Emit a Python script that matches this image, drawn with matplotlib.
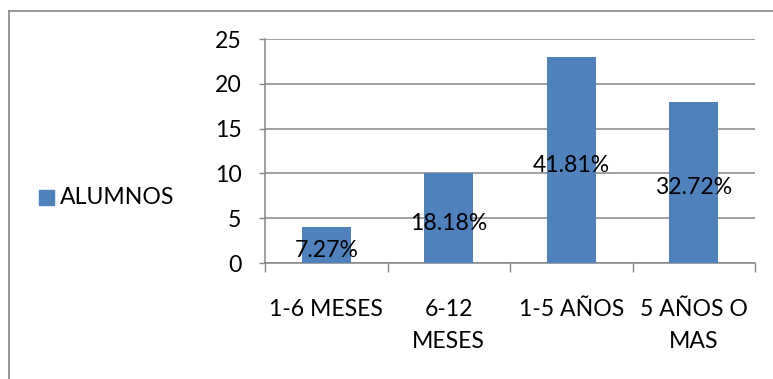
import matplotlib
matplotlib.use("Agg")
import matplotlib.pyplot as plt
from matplotlib.lines import Line2D
from matplotlib.patches import Rectangle

categories = ["1-6 MESES", "6-12\nMESES", "1-5 AÑOS", "5 AÑOS O\nMAS"]
alumnos = [4, 10, 23, 18]
porcentajes = ["7.27%", "18.18%", "41.81%", "32.72%"]
y_ticks = [0, 5, 10, 15, 20, 25]
series_name = "ALUMNOS"

BAR = "#4F81BD"
GRID = "#868686"
FONT = "Lato"
FS = 16.6

W, H = 773, 379
fig = plt.figure(figsize=(W / 100, H / 100), dpi=100)
fig.patch.set_facecolor("white")

# chart area border (left and top edges)
fig.add_artist(Line2D([9 / W, 9 / W], [0, 1 - 11 / H], color=GRID, lw=1.2,
                      transform=fig.transFigure))
fig.add_artist(Line2D([9 / W, 1], [1 - 11 / H, 1 - 11 / H], color=GRID, lw=1.2,
                      transform=fig.transFigure))

left, right = 265 / W, 755 / W
bottom, top = 1 - 263 / H, 1 - 39 / H
ax = fig.add_axes([left, bottom, right - left, top - bottom])

x = list(range(len(categories)))
ax.bar(x, alumnos, width=0.4, color=BAR, zorder=3)
ax.set_xlim(-0.5, len(categories) - 0.5)
ax.set_ylim(0, 25)

ax.set_yticks(y_ticks)
ax.set_yticklabels([str(v) for v in y_ticks], fontfamily=FONT, fontsize=FS)
ax.tick_params(axis="y", direction="out", length=4.5, width=1, color=GRID,
               pad=12.5)
ax.yaxis.grid(True, color=GRID, lw=1.1, zorder=0)

ax.set_xticks(x)
ax.set_xticklabels(categories, fontfamily=FONT, fontsize=FS, linespacing=1.62,
                   va="top")
ax.tick_params(axis="x", which="major", length=0, pad=26)
ax.set_xticks([i - 0.5 for i in range(len(categories) + 1)], minor=True)
ax.tick_params(axis="x", which="minor", direction="out", length=6.5, width=1,
               color=GRID)

for s in ["top", "right"]:
    ax.spines[s].set_visible(False)
for s in ["left", "bottom"]:
    ax.spines[s].set_color(GRID)
    ax.spines[s].set_linewidth(1.1)

# percentage labels centred inside each bar
for xi, v, lab in zip(x, alumnos, porcentajes):
    ax.text(xi, v / 2 - 0.6, lab, ha="center", va="center", fontfamily=FONT,
            fontsize=FS, color="black", zorder=4)

# legend on the left
fig.add_artist(Rectangle((39 / W, 1 - 205 / H), 15 / W, 15 / H, color=BAR,
                         transform=fig.transFigure))
fig.text(60 / W, 1 - 197 / H, series_name, ha="left", va="center",
         fontfamily=FONT, fontsize=FS)

fig.savefig("out.png", dpi=100)
